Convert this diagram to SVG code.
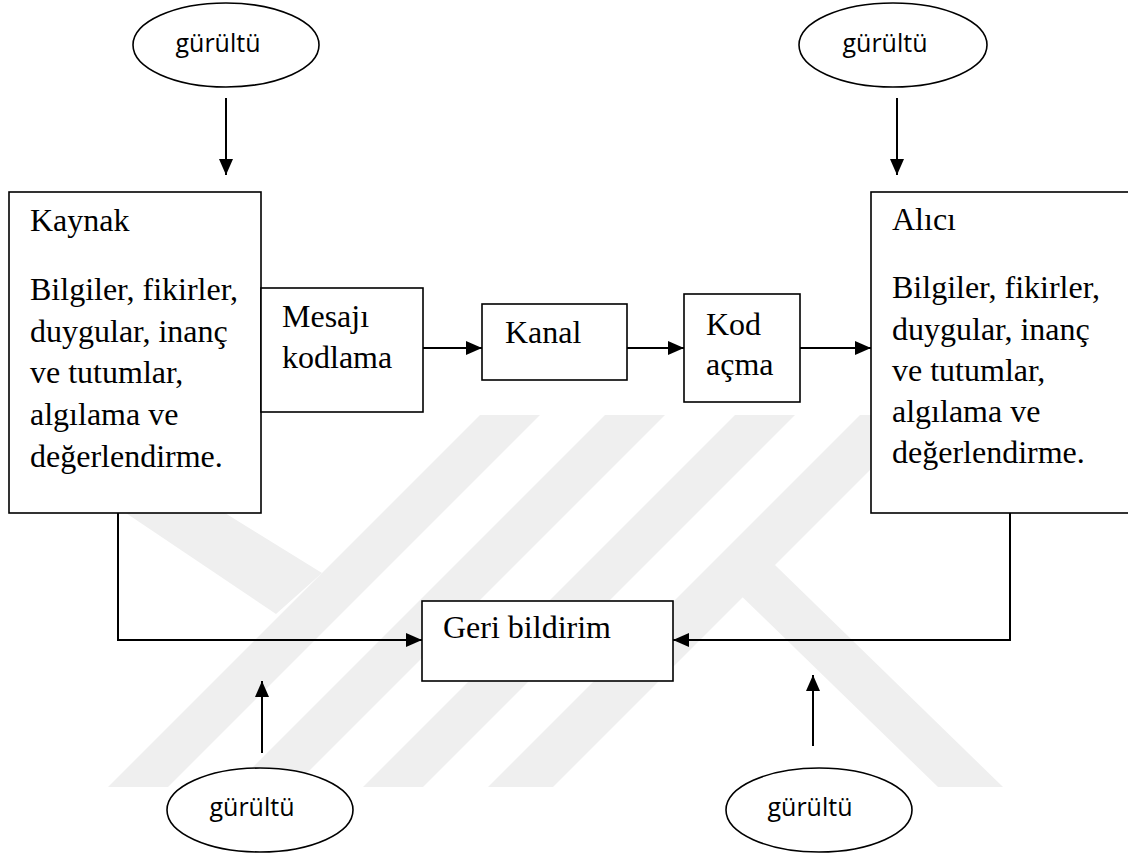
<svg xmlns="http://www.w3.org/2000/svg" width="1128" height="856" viewBox="0 0 1128 856">
  <defs>
    <marker id="arrow" markerUnits="userSpaceOnUse" markerWidth="16" markerHeight="14" viewBox="0 0 16 14" refX="16" refY="7" orient="auto">
      <path d="M0,0 L16,7 L0,14 z" fill="#000"/>
    </marker>
    <style>
      .box { fill: #fff; stroke: #000; stroke-width: 1.6; }
      .ell { fill: #fff; stroke: #000; stroke-width: 1.6; }
      .con { fill: none; stroke: #000; stroke-width: 2; marker-end: url(#arrow); }
      .serif { font-family: "Liberation Serif", "Times New Roman", serif; font-size: 32px; fill: #000; }
      .sans { font-family: "Open Sans", "Noto Sans", sans-serif; font-size: 25px; fill: #000; text-anchor: middle; }
      .wm { fill: #efefef; }
    </style>
  </defs>
  <rect width="1128" height="856" fill="#fff"/>

  <g id="watermark">
    <polygon class="wm" points="480,415 540,415 168,787 108,787"/>
    <polygon class="wm" points="114,505 212,505 322,573 276,614"/>
    <polygon class="wm" points="605,415 665,415 293,787 233,787"/>
    <polygon class="wm" points="735,415 795,415 423,787 363,787"/>
    <polygon class="wm" points="860,415 925,415 553,787 488,787"/>
    <polygon class="wm" points="730,585 775,565 1003,787 938,787"/>
  </g>

  <g id="connectors">
    <line class="con" x1="226" y1="98" x2="226" y2="175"/>
    <line class="con" x1="897" y1="98" x2="897" y2="175"/>
    <line class="con" x1="262" y1="753" x2="262" y2="681"/>
    <line class="con" x1="813" y1="746" x2="813" y2="675"/>
    <line class="con" x1="423" y1="348" x2="482" y2="348"/>
    <line class="con" x1="627" y1="348" x2="684" y2="348"/>
    <line class="con" x1="800" y1="348" x2="871" y2="348"/>
    <polyline class="con" points="118,513 118,640 422,640"/>
    <polyline class="con" points="1010,513 1010,640 673,640"/>
  </g>

  <g id="node-kaynak">
    <rect class="box" x="9" y="192" width="252" height="321"/>
    <text class="serif" x="30" y="231">Kaynak</text>
    <text class="serif" x="30" y="300">Bilgiler, fikirler,</text>
    <text class="serif" x="30" y="342">duygular, inanç</text>
    <text class="serif" x="30" y="383">ve tutumlar,</text>
    <text class="serif" x="30" y="425">algılama ve</text>
    <text class="serif" x="30" y="467">değerlendirme.</text>
  </g>

  <g id="node-mesaji">
    <rect class="box" x="261" y="288" width="162" height="124"/>
    <text class="serif" x="282" y="327">Mesajı</text>
    <text class="serif" x="282" y="368">kodlama</text>
  </g>

  <g id="node-kanal">
    <rect class="box" x="482" y="304" width="145" height="76"/>
    <text class="serif" x="505" y="343">Kanal</text>
  </g>

  <g id="node-kod">
    <rect class="box" x="684" y="294" width="116" height="108"/>
    <text class="serif" x="706" y="335">Kod</text>
    <text class="serif" x="706" y="375">açma</text>
  </g>

  <g id="node-alici">
    <rect class="box" x="871" y="192" width="270" height="321"/>
    <text class="serif" x="892" y="230">Alıcı</text>
    <text class="serif" x="892" y="298">Bilgiler, fikirler,</text>
    <text class="serif" x="892" y="340">duygular, inanç</text>
    <text class="serif" x="892" y="381">ve tutumlar,</text>
    <text class="serif" x="892" y="422">algılama ve</text>
    <text class="serif" x="892" y="463">değerlendirme.</text>
  </g>

  <g id="node-geri">
    <rect class="box" x="422" y="601" width="251" height="80"/>
    <text class="serif" x="443" y="638">Geri bildirim</text>
  </g>

  <g id="node-gurultu-tl">
    <ellipse class="ell" cx="226" cy="45" rx="93" ry="42"/>
    <text class="sans" x="218" y="52">gürültü</text>
  </g>
  <g id="node-gurultu-tr">
    <ellipse class="ell" cx="893" cy="45" rx="94" ry="42"/>
    <text class="sans" x="885" y="52">gürültü</text>
  </g>
  <g id="node-gurultu-bl">
    <ellipse class="ell" cx="260" cy="810" rx="93" ry="42"/>
    <text class="sans" x="252" y="816">gürültü</text>
  </g>
  <g id="node-gurultu-br">
    <ellipse class="ell" cx="819" cy="810" rx="93" ry="42"/>
    <text class="sans" x="810" y="816">gürültü</text>
  </g>
</svg>
